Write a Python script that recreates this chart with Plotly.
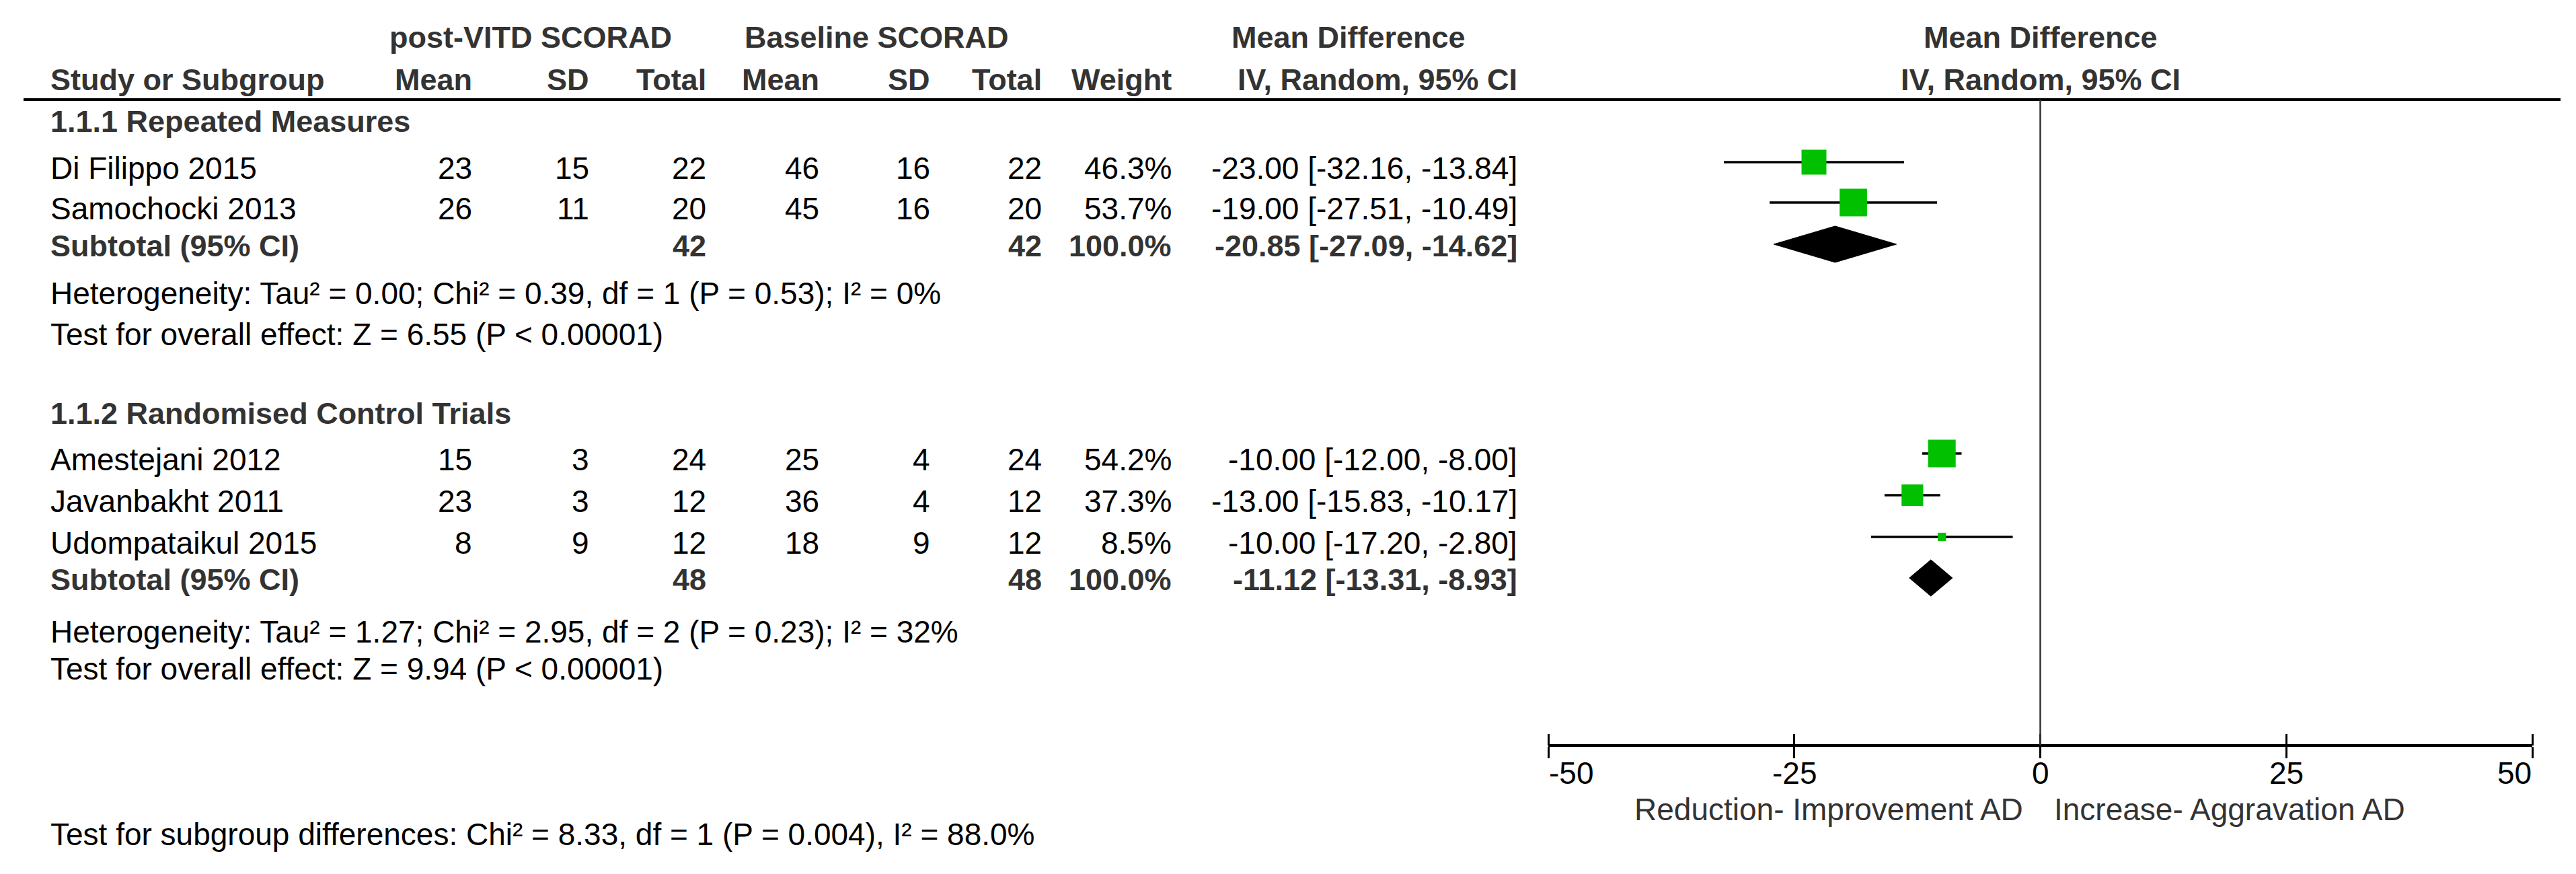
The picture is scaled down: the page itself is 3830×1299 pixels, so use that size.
import plotly.graph_objects as go

# ---------------- data ----------------
group_titles = ["1.1.1 Repeated Measures", "1.1.2 Randomised Control Trials"]
studies = [["Di Filippo 2015", "Samochocki 2013"],
           ["Amestejani 2012", "Javanbakht 2011", "Udompataikul 2015"]]
post_mean = [[23, 26], [15, 23, 8]]
post_sd = [[15, 11], [3, 3, 9]]
post_total = [[22, 20], [24, 12, 12]]
base_mean = [[46, 45], [25, 36, 18]]
base_sd = [[16, 16], [4, 4, 9]]
base_total = [[22, 20], [24, 12, 12]]
weight = [[46.3, 53.7], [54.2, 37.3, 8.5]]
md = [[-23.00, -19.00], [-10.00, -13.00, -10.00]]
ci_low = [[-32.16, -27.51], [-12.00, -15.83, -17.20]]
ci_high = [[-13.84, -10.49], [-8.00, -10.17, -2.80]]

sub_post_total = [42, 48]
sub_base_total = [42, 48]
sub_weight = [100.0, 100.0]
sub_md = [-20.85, -11.12]
sub_low = [-27.09, -13.31]
sub_high = [-14.62, -8.93]

heterogeneity = ["Heterogeneity: Tau² = 0.00; Chi² = 0.39, df = 1 (P = 0.53); I² = 0%",
                 "Heterogeneity: Tau² = 1.27; Chi² = 2.95, df = 2 (P = 0.23); I² = 32%"]
overall = ["Test for overall effect: Z = 6.55 (P < 0.00001)",
           "Test for overall effect: Z = 9.94 (P < 0.00001)"]
subgroup_test = "Test for subgroup differences: Chi² = 8.33, df = 1 (P = 0.004), I² = 88.0%"

axis_ticks = [-50, -25, 0, 25, 50]
axis_tick_labels = ["-50", "-25", "0", "25", "50"]
favours_left = "Reduction- Improvement AD"
favours_right = "Increase- Aggravation AD"

header_groups = ["post-VITD SCORAD", "Baseline SCORAD", "Mean Difference"]
header_cols = ["Study or Subgroup", "Mean", "SD", "Total", "Mean", "SD", "Total", "Weight",
               "IV, Random, 95% CI"]
plot_header = ["Mean Difference", "IV, Random, 95% CI"]

# ---------------- layout geometry (pixels) ----------------
W, H = 3830, 1299
FONT = "Liberation Sans, Arial, sans-serif"
FS = 46
FSB = 45
BOLD_COL = "#333333"
GREEN = "#00C000"

col_x = [66, 695, 869, 1043, 1211, 1376, 1542, 1735, 2249]
hdr_group_x = [781, 1295, 1997]
Y_H1, Y_H2, Y_LINE = 47, 110, 140
group_y = [172, 606]
study_y = [[242, 302], [675, 737, 799]]
subtotal_y = [357, 853]
het_y = [428, 931]
overall_y = [489, 986]
Y_AXIS = 1100
Y_TICKLAB = 1141
Y_FAV = 1195
Y_SUBTEST = 1232
TEXT_DY = 0
MARK_DY = -9
DIAM_DY = -2
DIAM_HALF = 27

X0_PX, X1_PX = 2294, 3757

annotations = []


def txt(x, y, s, anchor="right", bold=False, xref="paper", color=None, xshift=0):
    if xref == "paper":
        x = x / W
    annotations.append(dict(
        x=x, y=y + TEXT_DY, xref=xref, yref="y", text=s, showarrow=False,
        xanchor=anchor, yanchor="middle", xshift=xshift,
        font=dict(family=FONT, size=FSB if bold else FS,
                  color=color or (BOLD_COL if bold else "black"),
                  weight="bold" if bold else "normal"),
        borderpad=0,
    ))


# headers
for s, x in zip(header_groups, hdr_group_x):
    txt(x, Y_H1, s, anchor="center", bold=True)
for i, (s, x) in enumerate(zip(header_cols, col_x)):
    txt(x, Y_H2, s, anchor="left" if i == 0 else "right", bold=True)
txt(0, Y_H1, plot_header[0], anchor="center", bold=True, xref="x")
txt(0, Y_H2, plot_header[1], anchor="center", bold=True, xref="x")

fig = go.Figure()

ci_x, ci_y = [], []
sq_x, sq_y, sq_s = [], [], []
for g in range(len(group_titles)):
    txt(col_x[0], group_y[g], group_titles[g], anchor="left", bold=True)
    for i, name in enumerate(studies[g]):
        y = study_y[g][i]
        vals = [name, str(post_mean[g][i]), str(post_sd[g][i]), str(post_total[g][i]),
                str(base_mean[g][i]), str(base_sd[g][i]), str(base_total[g][i]),
                f"{weight[g][i]:.1f}%",
                f"{md[g][i]:.2f} [{ci_low[g][i]:.2f}, {ci_high[g][i]:.2f}]"]
        for j, (s, x) in enumerate(zip(vals, col_x)):
            txt(x, y, s, anchor="left" if j == 0 else "right")
        ci_x += [ci_low[g][i], ci_high[g][i], None]
        ci_y += [y + MARK_DY, y + MARK_DY, None]
        sq_x.append(md[g][i])
        sq_y.append(y + MARK_DY)
        sq_s.append(41 * (weight[g][i] / 54.2) ** 0.65)
    ys = subtotal_y[g]
    txt(col_x[0], ys, "Subtotal (95% CI)", anchor="left", bold=True)
    txt(col_x[3], ys, str(sub_post_total[g]), bold=True)
    txt(col_x[6], ys, str(sub_base_total[g]), bold=True)
    txt(col_x[7], ys, f"{sub_weight[g]:.1f}%", bold=True)
    txt(col_x[8], ys, f"{sub_md[g]:.2f} [{sub_low[g]:.2f}, {sub_high[g]:.2f}]", bold=True)
    txt(col_x[0], het_y[g], heterogeneity[g], anchor="left")
    txt(col_x[0], overall_y[g], overall[g], anchor="left")
    yc = ys + DIAM_DY
    fig.add_trace(go.Scatter(
        x=[sub_low[g], sub_md[g], sub_high[g], sub_md[g], sub_low[g]],
        y=[yc, yc - DIAM_HALF, yc, yc + DIAM_HALF, yc],
        mode="lines", fill="toself", fillcolor="black",
        line=dict(color="black", width=1), showlegend=False, hoverinfo="skip"))

txt(col_x[0], Y_SUBTEST, subgroup_test, anchor="left")

fig.add_trace(go.Scatter(x=ci_x, y=ci_y, mode="lines",
                         line=dict(color="black", width=3.5),
                         showlegend=False, hoverinfo="skip"))
fig.add_trace(go.Scatter(x=sq_x, y=sq_y, mode="markers",
                         marker=dict(symbol="square", size=sq_s, color=GREEN, opacity=1,
                                     line=dict(width=0)),
                         opacity=1, showlegend=False, hoverinfo="skip"))
fig.add_trace(go.Scatter(x=[None], y=[None], xaxis="x2", showlegend=False))

# axis tick labels (edge labels kept inside, as in the reference)
for v, s in zip(axis_ticks, axis_tick_labels):
    anchor = "left" if v == axis_ticks[0] else ("right" if v == axis_ticks[-1] else "center")
    txt(v, Y_TICKLAB, s, anchor=anchor, xref="x")
txt(0, Y_FAV, favours_left, anchor="right", xref="x", xshift=-25, color="#333333")
txt(0, Y_FAV, favours_right, anchor="left", xref="x", xshift=19, color="#333333")

shapes = [
    dict(type="line", xref="paper", yref="y", x0=27 / W, x1=3799 / W, y0=Y_LINE, y1=Y_LINE,
         line=dict(color="black", width=4)),
    dict(type="line", xref="x", yref="y", x0=0, x1=0, y0=Y_LINE, y1=Y_AXIS,
         line=dict(color="#333333", width=2.5)),
]

pos = (H - Y_AXIS) / H
axis_common = dict(domain=[X0_PX / W, X1_PX / W], range=[-50, 50], anchor="free", position=pos,
                   ticks="outside", ticklen=17, tickwidth=3, tickcolor="black",
                   tickvals=axis_ticks, showticklabels=False, showgrid=False,
                   zeroline=False, fixedrange=True)
fig.update_layout(
    width=W, height=H, autosize=False,
    margin=dict(l=0, r=0, t=0, b=0, pad=0),
    paper_bgcolor="white", plot_bgcolor="white",
    xaxis=dict(**axis_common, showline=True, linecolor="black", linewidth=4),
    xaxis2=dict(**axis_common, overlaying="x", side="top", showline=False),
    yaxis=dict(domain=[0, 1], range=[H, 0], visible=False, fixedrange=True),
    annotations=annotations, shapes=shapes, showlegend=False,
)

fig.write_html("out.html")
